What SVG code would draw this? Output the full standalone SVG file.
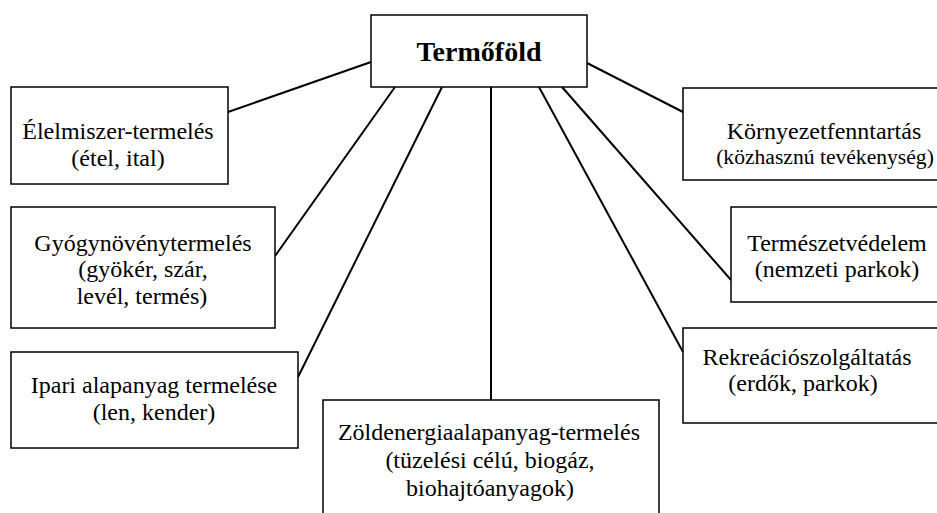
<svg xmlns="http://www.w3.org/2000/svg" width="937" height="513" viewBox="0 0 937 513">
<style>
.box{fill:#fff;stroke:#000;stroke-width:1.5}
.t{font-family:'Liberation Serif','Times New Roman',serif;font-size:24px;fill:#000;text-anchor:middle}
.title{font-family:'Liberation Serif','Times New Roman',serif;font-size:28px;font-weight:bold;fill:#000;text-anchor:middle}
.c{stroke:#000;stroke-width:2;fill:none}
</style>
<rect width="937" height="513" fill="#fff"/>
<g id="connectors">
<line class="c" x1="371" y1="62" x2="228" y2="112"/>
<line class="c" x1="395" y1="87" x2="275" y2="256"/>
<line class="c" x1="442" y1="87" x2="298" y2="377"/>
<line class="c" x1="491" y1="87" x2="491" y2="400"/>
<line class="c" x1="539" y1="87" x2="683" y2="352"/>
<line class="c" x1="562" y1="87" x2="731" y2="280"/>
<line class="c" x1="587" y1="63" x2="683" y2="112"/>
</g>
<g id="termofold">
<rect class="box" x="371" y="15" width="216" height="72"/>
<text class="title" x="479" y="61">Termőföld</text>
</g>
<g id="elelmiszer">
<rect class="box" x="11" y="87" width="217" height="97"/>
<text class="t" x="118" y="139">Élelmiszer-termelés</text>
<text class="t" x="118" y="166">(étel, ital)</text>
</g>
<g id="gyogynoveny">
<rect class="box" x="11" y="207" width="264" height="121"/>
<text class="t" x="143" y="251">Gyógynövénytermelés</text>
<text class="t" x="143" y="277">(gyökér, szár,</text>
<text class="t" x="142" y="304">levél, termés)</text>
</g>
<g id="ipari">
<rect class="box" x="11" y="352" width="287" height="96"/>
<text class="t" x="154" y="393">Ipari alapanyag termelése</text>
<text class="t" x="154" y="420">(len, kender)</text>
</g>
<g id="zoldenergia">
<rect class="box" x="323" y="400" width="336" height="130"/>
<text class="t" x="489" y="440">Zöldenergiaalapanyag-termelés</text>
<text class="t" x="490" y="468">(tüzelési célú, biogáz,</text>
<text class="t" x="490" y="496">biohajtóanyagok)</text>
</g>
<g id="kornyezet">
<path class="box" d="M937 88 H683 V180 H937"/>
<text class="t" x="824" y="139">Környezetfenntartás</text>
<text class="t" x="825" y="164" style="font-size:21.6px">(közhasznú tevékenység)</text>
</g>
<g id="termeszet">
<path class="box" d="M937 207 H731 V302 H937"/>
<text class="t" x="837" y="251">Természetvédelem</text>
<text class="t" x="837" y="277">(nemzeti parkok)</text>
</g>
<g id="rekreacio">
<path class="box" d="M937 328 H683 V423 H937"/>
<text class="t" x="807" y="365">Rekreációszolgáltatás</text>
<text class="t" x="803" y="391">(erdők, parkok)</text>
</g>
</svg>
